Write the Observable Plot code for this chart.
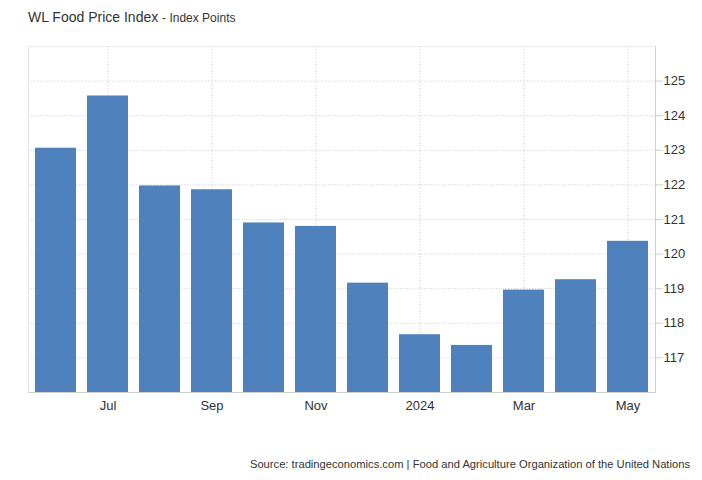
<!DOCTYPE html>
<html>
<head>
<meta charset="utf-8">
<script src="https://cdn.jsdelivr.net/npm/d3@7"></script>
<script src="https://cdn.jsdelivr.net/npm/@observablehq/plot@0.6"></script>
<style>
  html, body { margin: 0; padding: 0; background: #fff; }
  #wrap { position: relative; width: 702px; height: 480px; font-family: "Liberation Sans", Arial, sans-serif; }
  #title { position: absolute; left: 28px; top: 9px; font-size: 14px; color: #333; white-space: nowrap; }
  #title span { font-size: 12px; color: #333; }
  #source { position: absolute; right: 12px; top: 458px; font-size: 11.2px; color: #333; white-space: nowrap; }
  #chart { position: absolute; left: 0; top: 0; }
</style>
</head>
<body>
<div id="wrap">
  <div id="chart"></div>
  <div id="title">WL Food Price Index <span>- Index Points</span></div>
  <div id="source">Source: tradingeconomics.com | Food and Agriculture Organization of the United Nations</div>
</div>
<script>
const months = ["Jun 2023","Jul 2023","Aug 2023","Sep 2023","Oct 2023","Nov 2023","Dec 2023","Jan 2024","Feb 2024","Mar 2024","Apr 2024","May 2024"];
const values = [123.06, 124.57, 121.97, 121.86, 120.9, 120.8, 119.16, 117.67, 117.36, 118.96, 119.26, 120.37];
const xTicks = ["Jul 2023","Sep 2023","Nov 2023","Jan 2024","Mar 2024","May 2024"];
const xTickLabels = ["Jul","Sep","Nov","2024","Mar","May"];
const yTicks = [117,118,119,120,121,122,123,124,125];
const yDomain = [116, 126];

const data = months.map((m, i) => ({month: m, value: values[i]}));
const labelOf = new Map(xTicks.map((t, i) => [t, xTickLabels[i]]));

const plot = Plot.plot({
  width: 702,
  height: 480,
  marginLeft: 28,
  marginRight: 47,
  marginTop: 46,
  marginBottom: 88,
  style: {fontFamily: "'Liberation Sans', Arial, sans-serif", color: "#333", background: "#fff"},
  x: {type: "band", domain: months, paddingInner: 0.22, paddingOuter: 0.13, axis: null, label: null},
  y: {domain: yDomain, axis: null, label: null},
  marks: [
    Plot.ruleY([...yTicks, yDomain[1]], {stroke: "#d9d9d9", strokeDasharray: "1.5,1.5", strokeWidth: 1}),
    Plot.ruleX(xTicks, {stroke: "#d9d9d9", strokeDasharray: "1.5,1.5", strokeWidth: 1}),
    Plot.frame({anchor: "left", stroke: "#e3e3e3"}),
    Plot.barY(data, {x: "month", y1: yDomain[0], y2: "value", fill: "#4f81bd"}),
    Plot.ruleY([yDomain[0]], {stroke: "#d0d0d0", strokeWidth: 1}),
    Plot.frame({anchor: "right", stroke: "#d0d0d0"}),
    Plot.axisY({anchor: "right", ticks: yTicks, tickSize: 7, tickPadding: 1, fontSize: 13, stroke: "#d0d0d0", color: "#333", label: null, tickFormat: d => String(d)}),
    Plot.axisX({ticks: xTicks, tickSize: 0, tickPadding: 8, fontSize: 13, color: "#333", label: null, tickFormat: d => labelOf.get(d)})
  ]
});
document.getElementById("chart").appendChild(plot);
</script>
</body>
</html>
